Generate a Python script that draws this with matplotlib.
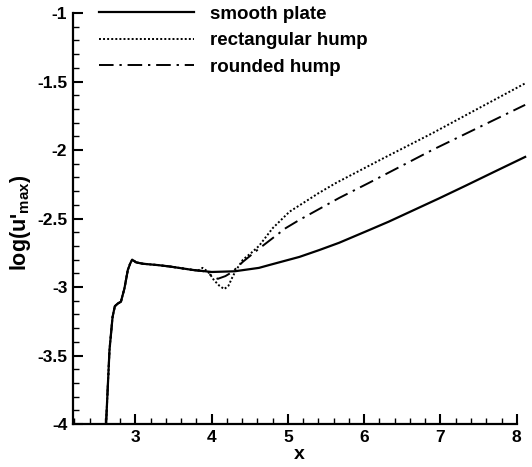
import matplotlib
matplotlib.use('Agg')
import matplotlib.pyplot as plt
from matplotlib.ticker import MultipleLocator

plt.rcParams['font.family'] = 'Liberation Sans'
plt.rcParams['font.weight'] = 'bold'
plt.rcParams['mathtext.fontset'] = 'custom'
plt.rcParams['mathtext.rm'] = 'Liberation Sans:bold'
plt.rcParams['mathtext.it'] = 'Liberation Sans:bold'
plt.rcParams['mathtext.bf'] = 'Liberation Sans:bold'

# smooth plate
smooth_x = [2.615, 2.64, 2.66, 2.70, 2.73, 2.77, 2.81, 2.856, 2.90, 2.93, 2.957,
            3.01, 3.1, 3.3, 3.45, 3.75, 4.0, 4.3, 4.62, 4.75, 5.15, 5.41, 5.67, 6.06,
            6.32, 6.98, 7.33, 7.7, 8.11]
smooth_y = [-4.0, -3.70, -3.46, -3.22, -3.14, -3.12, -3.107, -3.01, -2.876, -2.83, -2.80,
            -2.82, -2.83, -2.84, -2.85, -2.875, -2.89, -2.885, -2.86, -2.84, -2.78, -2.73,
            -2.677, -2.585, -2.523, -2.353, -2.26, -2.16, -2.05]

# rectangular hump
rect_x = [2.615, 2.64, 2.66, 2.70, 2.73, 2.77, 2.81, 2.856, 2.90, 2.93, 2.957,
          3.01, 3.1, 3.3, 3.45, 3.75, 3.82, 3.88, 3.93, 3.97, 4.03, 4.10, 4.165, 4.22,
          4.27, 4.32, 4.41, 4.52, 4.62, 4.80, 5.02, 5.19, 5.40, 5.63, 6.25, 6.89, 7.5, 8.11]
rect_y = [-4.0, -3.70, -3.46, -3.22, -3.14, -3.12, -3.107, -3.01, -2.876, -2.83, -2.80,
          -2.82, -2.83, -2.84, -2.85, -2.875, -2.88, -2.86, -2.88, -2.90, -2.95, -2.99,
          -3.015, -2.99, -2.93, -2.876, -2.80, -2.75, -2.70, -2.57, -2.45, -2.39, -2.315,
          -2.24, -2.06, -1.878, -1.695, -1.513]

# rounded hump
round_x = [2.615, 2.64, 2.66, 2.70, 2.73, 2.77, 2.81, 2.856, 2.90, 2.93, 2.957,
           3.01, 3.1, 3.3, 3.45, 3.75, 3.90, 3.98, 4.08, 4.18, 4.27, 4.41, 4.62, 4.97,
           5.15, 5.41, 5.67, 6.06, 6.89, 7.5, 8.11]
round_y = [-4.0, -3.70, -3.46, -3.22, -3.14, -3.12, -3.107, -3.01, -2.876, -2.83, -2.80,
           -2.82, -2.83, -2.84, -2.85, -2.875, -2.885, -2.91, -2.94, -2.92, -2.89, -2.815,
           -2.72, -2.57, -2.51, -2.43, -2.35, -2.24, -2.0, -1.835, -1.67]

labels = ['smooth plate', 'rectangular hump', 'rounded hump']

fig = plt.figure(figsize=(5.32, 4.67), dpi=100)
ax = fig.add_axes([0.137, 0.092, 0.853, 0.88])

ax.plot(smooth_x, smooth_y, color='black', lw=1.6, label=labels[0])
ax.plot(rect_x, rect_y, color='black', lw=1.4, linestyle=(0, (1, 1.1)), label=labels[1])
ax.plot(round_x, round_y, color='black', lw=1.4, linestyle=(0, (7.5, 3, 1.2, 3)), label=labels[2])

ax.set_xlim(2.18, 8.13)
ax.set_ylim(-4, -1)
ax.spines['top'].set_visible(False)
ax.spines['right'].set_visible(False)
ax.spines['bottom'].set_bounds(2.18, 8)
for s in ['left', 'bottom']:
    ax.spines[s].set_linewidth(1.6)

ax.xaxis.set_major_locator(MultipleLocator(1))
ax.xaxis.set_minor_locator(MultipleLocator(0.2))
ax.yaxis.set_major_locator(MultipleLocator(0.5))
ax.yaxis.set_minor_locator(MultipleLocator(0.1))
ax.set_yticks([-4, -3.5, -3, -2.5, -2, -1.5, -1])
ax.set_yticklabels(['-4', '-3.5', '-3', '-2.5', '-2', '-1.5', '-1'])
ax.set_xticks([3, 4, 5, 6, 7, 8])
ax.tick_params(which='major', direction='in', length=7, width=1.5, labelsize=12.5, pad=4)
ax.tick_params(which='minor', direction='in', length=4, width=1.0)

ax.set_xlabel('x', fontsize=14, fontweight='bold', labelpad=1)
ax.set_ylabel(r"log(u$'_{\mathrm{max}}$)", fontsize=15.5, fontweight='bold')
ax.yaxis.set_label_coords(-0.088, 0.491)

leg = ax.legend(loc='upper left', bbox_to_anchor=(0.04, 1.036), frameon=False,
                fontsize=13.5, handlelength=5.1, handletextpad=0.85, labelspacing=0.49,
                borderaxespad=0)

fig.savefig('out.png', dpi=100)
